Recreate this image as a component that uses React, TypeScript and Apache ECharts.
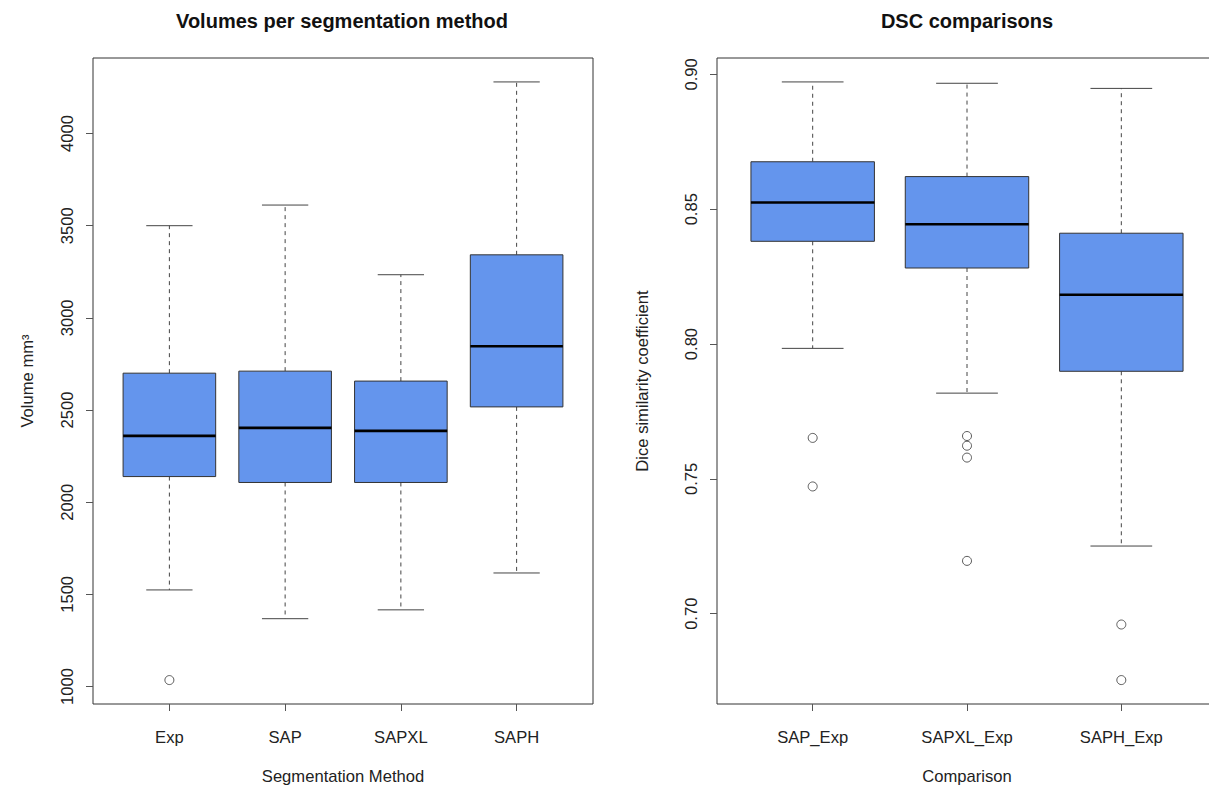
import React, { useEffect, useRef } from "react";
import * as echarts from "echarts";

// Volumes per segmentation method (mm^3): five-number summaries
const volumeMethods = ["Exp", "SAP", "SAPXL", "SAPH"];
const volumeLow = [1524, 1368, 1416, 1616];
const volumeQ1 = [2139, 2107, 2107, 2517];
const volumeMedian = [2360, 2403, 2387, 2846];
const volumeQ3 = [2700, 2711, 2657, 3342];
const volumeHigh = [3500, 3612, 3234, 4280];
// [method index, value]
const volumeOutliers: [number, number][] = [[0, 1035]];
const volumeTicks = [1000, 1500, 2000, 2500, 3000, 3500, 4000];

// Dice similarity coefficient per comparison
const dscComparisons = ["SAP_Exp", "SAPXL_Exp", "SAPH_Exp"];
const dscLow = [0.7984, 0.7818, 0.7251];
const dscQ1 = [0.8381, 0.8282, 0.7899];
const dscMedian = [0.8525, 0.8444, 0.8183];
const dscQ3 = [0.8676, 0.8621, 0.8411];
const dscHigh = [0.8972, 0.8967, 0.8948];
const dscOutliers: [number, number][] = [
  [0, 0.7652],
  [0, 0.7472],
  [1, 0.7659],
  [1, 0.7623],
  [1, 0.7579],
  [1, 0.7196],
  [2, 0.696],
  [2, 0.6754],
];
const dscTicks = [0.7, 0.75, 0.8, 0.85, 0.9];

const FONT = "'Liberation Sans', Arial, Helvetica, sans-serif";
const FONT_SIZE = 16.6;
const BOX_FILL = "#6495ED";

function extent(values: number[]) {
  const lo = Math.min(...values);
  const hi = Math.max(...values);
  const pad = (hi - lo) * 0.04;
  return [lo - pad, hi + pad];
}

function renderBox(params: any, api: any) {
  const x = api.value(0);
  const [cx, yLow] = api.coord([x, api.value(1)]);
  const yQ1 = api.coord([x, api.value(2)])[1];
  const yMed = api.coord([x, api.value(3)])[1];
  const yQ3 = api.coord([x, api.value(4)])[1];
  const yHigh = api.coord([x, api.value(5)])[1];
  const half = api.size([0.8, 0])[0] / 2;
  const cap = half / 2;
  const whisker = { stroke: "#444", lineWidth: 1, lineDash: [4, 4] };
  const capStyle = { stroke: "#444", lineWidth: 1 };
  return {
    type: "group",
    children: [
      { type: "line", shape: { x1: cx, y1: yQ3, x2: cx, y2: yHigh }, style: whisker },
      { type: "line", shape: { x1: cx, y1: yQ1, x2: cx, y2: yLow }, style: whisker },
      { type: "line", shape: { x1: cx - cap, y1: yHigh, x2: cx + cap, y2: yHigh }, style: capStyle },
      { type: "line", shape: { x1: cx - cap, y1: yLow, x2: cx + cap, y2: yLow }, style: capStyle },
      {
        type: "rect",
        shape: { x: cx - half, y: yQ3, width: half * 2, height: yQ1 - yQ3 },
        style: { fill: BOX_FILL, stroke: "#333", lineWidth: 1 },
      },
      {
        type: "line",
        shape: { x1: cx - half, y1: yMed, x2: cx + half, y2: yMed },
        style: { stroke: "#000", lineWidth: 2.6 },
      },
    ],
  };
}

function xAxisFor(names: string[], gridIndex: number, title: string) {
  const n = names.length;
  const ticks = names.map((_, i) => i + 1);
  return {
    type: "value",
    gridIndex,
    min: 0.5 - 0.04 * n,
    max: n + 0.5 + 0.04 * n,
    splitLine: { show: false },
    axisLine: { show: false },
    axisTick: { show: true, inside: false, length: 7, customValues: ticks, lineStyle: { color: "#555" } },
    axisLabel: {
      customValues: ticks,
      formatter: (v: number) => names[Math.round(v) - 1] ?? "",
      margin: 25,
      fontSize: FONT_SIZE,
      color: "#222",
      fontFamily: FONT,
    },
    name: title,
    nameLocation: "middle",
    nameGap: 64,
    nameTextStyle: { fontSize: FONT_SIZE, color: "#222", fontFamily: FONT },
  };
}

function yAxisFor(values: number[], ticks: number[], gridIndex: number, title: string, gap: number, digits: number) {
  const [min, max] = extent(values);
  return {
    type: "value",
    gridIndex,
    min,
    max,
    splitLine: { show: false },
    axisLine: { show: false },
    axisTick: { show: true, inside: false, length: 7, customValues: ticks, lineStyle: { color: "#555" } },
    axisLabel: {
      customValues: ticks,
      rotate: 90,
      formatter: (v: number) => v.toFixed(digits),
      margin: 17,
      fontSize: FONT_SIZE,
      color: "#222",
      fontFamily: FONT,
    },
    name: title,
    nameLocation: "middle",
    nameGap: gap,
    nameRotate: 90,
    nameTextStyle: { fontSize: FONT_SIZE, color: "#222", fontFamily: FONT },
  };
}

export default function App() {
  const ref = useRef<HTMLDivElement>(null);

  useEffect(() => {
    if (!ref.current) return;
    const chart = echarts.init(ref.current, null, { renderer: "svg" });

    const volumeBoxes = volumeMethods.map((_, i) => [
      i + 1,
      volumeLow[i],
      volumeQ1[i],
      volumeMedian[i],
      volumeQ3[i],
      volumeHigh[i],
    ]);
    const dscBoxes = dscComparisons.map((_, i) => [
      i + 1,
      dscLow[i],
      dscQ1[i],
      dscMedian[i],
      dscQ3[i],
      dscHigh[i],
    ]);

    const volumeAll = [...volumeLow, ...volumeHigh, ...volumeOutliers.map((o) => o[1])];
    const dscAll = [...dscLow, ...dscHigh, ...dscOutliers.map((o) => o[1])];

    const outlierStyle = { color: "#fff", borderColor: "#333", borderWidth: 1 };

    chart.setOption({
      animation: false,
      backgroundColor: "#fff",
      title: [
        {
          text: "Volumes per segmentation method",
          left: 337,
          top: 6,
          textAlign: "center",
          textStyle: { fontSize: 20, fontWeight: "bold", color: "#111", fontFamily: FONT },
        },
        {
          text: "DSC comparisons",
          left: 962,
          top: 6,
          textAlign: "center",
          textStyle: { fontSize: 20, fontWeight: "bold", color: "#111", fontFamily: FONT },
        },
      ],
      grid: [
        { left: 93, top: 58, width: 500, height: 650, show: true, borderColor: "#333", borderWidth: 1, backgroundColor: "transparent" },
        { left: 717, top: 58, width: 500, height: 647, show: true, borderColor: "#333", borderWidth: 1, backgroundColor: "transparent" },
      ],
      xAxis: [
        xAxisFor(volumeMethods, 0, "Segmentation Method"),
        xAxisFor(dscComparisons, 1, "Comparison"),
      ],
      yAxis: [
        yAxisFor(volumeAll, volumeTicks, 0, "Volume mm³", 57, 0),
        yAxisFor(dscAll, dscTicks, 1, "Dice similarity coefficient", 66, 2),
      ],
      series: [
        {
          type: "custom",
          xAxisIndex: 0,
          yAxisIndex: 0,
          renderItem: renderBox,
          encode: { x: 0, y: [1, 2, 3, 4, 5] },
          data: volumeBoxes,
          silent: true,
        },
        {
          type: "scatter",
          xAxisIndex: 0,
          yAxisIndex: 0,
          symbol: "circle",
          symbolSize: 9,
          itemStyle: outlierStyle,
          data: volumeOutliers.map(([i, v]) => [i + 1, v]),
          silent: true,
        },
        {
          type: "custom",
          xAxisIndex: 1,
          yAxisIndex: 1,
          renderItem: renderBox,
          encode: { x: 0, y: [1, 2, 3, 4, 5] },
          data: dscBoxes,
          silent: true,
        },
        {
          type: "scatter",
          xAxisIndex: 1,
          yAxisIndex: 1,
          symbol: "circle",
          symbolSize: 9,
          itemStyle: outlierStyle,
          data: dscOutliers.map(([i, v]) => [i + 1, v]),
          silent: true,
        },
      ],
    });

    return () => chart.dispose();
  }, []);

  // The drawing surface is wider than the visible area so the right panel's
  // frame runs off the edge.
  return (
    <div style={{ position: "absolute", left: 0, top: 0, width: 1209, height: 790, overflow: "hidden", background: "#fff" }}>
      <div ref={ref} style={{ width: 1240, height: 790 }} />
    </div>
  );
}
